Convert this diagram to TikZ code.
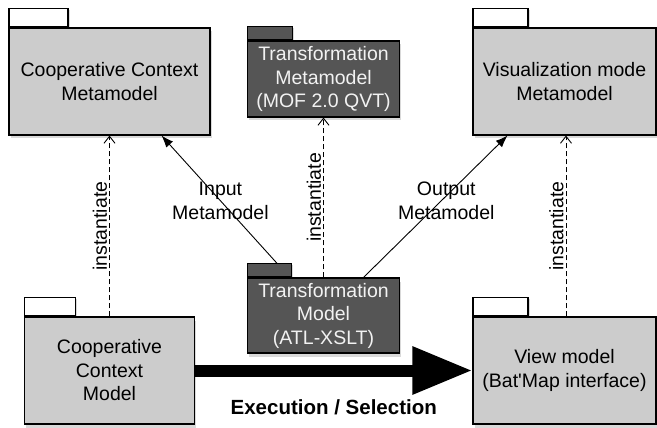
\documentclass[tikz,border=0pt]{standalone}
\usepackage{fontspec}
\setmainfont{Liberation Sans}
\usepackage{tikz}
\usetikzlibrary{arrows.meta, positioning, backgrounds, shadows}
\definecolor{PkgGray}{HTML}{CCCCCC}
\definecolor{PkgDark}{HTML}{555555}
\definecolor{PkgPale}{HTML}{F2F2F2}
\newcommand{\pkgfont}{\fontsize{19.5}{23.5}\selectfont}

\tikzset{
  pkg/.style={draw=black, line width=1.1pt, fill=PkgGray, align=center, inner sep=0pt,
              font=\pkgfont, drop shadow={shadow xshift=1.5pt, shadow yshift=-3.5pt, opacity=0.3}},
  pkgdark/.style={pkg, fill=PkgDark, text=PkgPale},
  tab/.style={draw=black, line width=1.1pt, fill=white, inner sep=0pt, anchor=south west,
              drop shadow={shadow xshift=1.5pt, shadow yshift=-1.5pt, opacity=0.3}},
  tabdark/.style={tab, fill=PkgDark},
  inst/.style={draw, line width=0.9pt, dash pattern=on 5pt off 3pt,
               -{Straight Barb[length=7pt, width=11pt]}},
  instlabel/.style={midway, sloped, above, inner sep=2pt, font=\pkgfont},
  assoc/.style={draw, line width=0.9pt, -{Latex[length=12pt, width=9pt]}},
  edgelabel/.style={align=center, inner sep=0pt, font=\pkgfont},
  exec/.style={draw, line width=12pt, -{Triangle[length=60pt, width=45pt]}}
}

\begin{document}
\begin{tikzpicture}[x=1pt, y=-1pt]
\useasboundingbox (0,0) rectangle (657,428);

% metamodels
\node[pkg, minimum width=201pt, minimum height=107pt] (ccmm) at (109.5,81.5) {Cooperative Context\\Metamodel};
\node[pkgdark, minimum width=152pt, minimum height=76pt] (tmm) at (323.5,79) {Transformation\\Metamodel\\(MOF 2.0 QVT)};
\node[pkg, minimum width=183pt, minimum height=107pt] (vmm) at (564.5,81.5) {Visualization mode\\Metamodel};

% models
\node[pkg, minimum width=170pt, minimum height=107pt] (ccm) at (109.5,370.5) {Cooperative\\Context\\Model};
\node[pkgdark, minimum width=152pt, minimum height=75pt] (tm) at (323.5,315.5) {Transformation\\Model\\(ATL-XSLT)};
\node[pkg, minimum width=183pt, minimum height=107pt] (vm) at (564.5,370.5) {View model\\(Bat\textquotesingle Map interface)};

% package tabs
\begin{scope}[on background layer]
  \node[tab, minimum width=59pt, minimum height=18pt] (ccmm-tab) at (ccmm.north west) {};
  \node[tabdark, minimum width=45pt, minimum height=13pt] (tmm-tab) at (tmm.north west) {};
  \node[tab, minimum width=55pt, minimum height=18pt] (vmm-tab) at (vmm.north west) {};
  \node[tab, minimum width=51pt, minimum height=18pt] (ccm-tab) at (ccm.north west) {};
  \node[tabdark, minimum width=44pt, minimum height=13pt] (tm-tab) at (tm.north west) {};
  \node[tab, minimum width=55pt, minimum height=18pt] (vm-tab) at (vm.north west) {};
\end{scope}

% instantiation
\draw[inst] (ccm.north) -- node[instlabel] {instantiate} (ccmm.south);
\draw[inst] (tm.north) -- node[instlabel] {instantiate} (tmm.south);
\draw[inst] ([xshift=1.5pt]vm.north) -- node[instlabel] {instantiate} ([xshift=1.5pt]vmm.south);

% input / output
\draw[assoc] ([xshift=-15pt]tm-tab.north east) -- node[pos=0.49, edgelabel] {Input\\Metamodel} ([xshift=52pt]ccmm.south);
\draw[assoc] ([xshift=40pt]tm.north) -- node[pos=0.54, xshift=5pt, edgelabel] {Output\\Metamodel} ([xshift=-57pt]vmm.south);

% execution
\draw[exec] (ccm.east) -- node[below=20pt, font=\fontsize{20.5}{24}\selectfont\bfseries] {Execution / Selection} (vm.west);
\end{tikzpicture}
\end{document}
